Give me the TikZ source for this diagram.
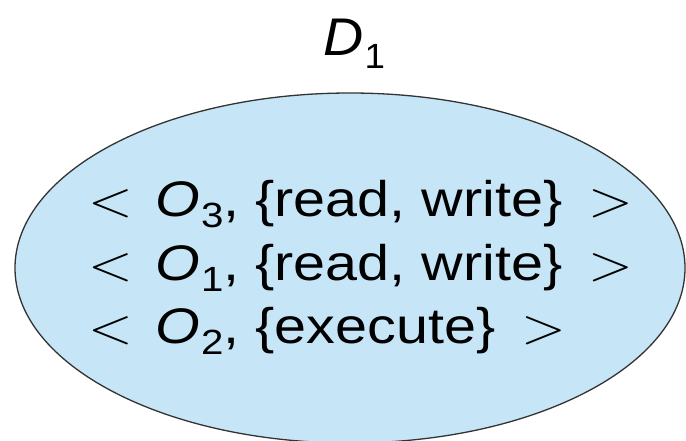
\documentclass[tikz,border=0pt]{standalone}
\usepackage{fontspec}
\setmainfont{Liberation Sans}
\newfontfamily\lmr{Latin Modern Roman}
\definecolor{domfill}{RGB}{198,230,247}
\newcommand{\lt}{{\lmr\fontsize{51}{56}\selectfont <}}
\newcommand{\gt}{{\lmr\fontsize{51}{56}\selectfont >}}
\newcommand{\obj}[1]{\textit{O}\kern0.01em\raisebox{-11pt}{\fontsize{35}{38}\selectfont #1}}
\newcommand{\entrytext}[2]{\scalebox{1.15}[1]{\lt\kern20pt\obj{#1}, \{#2\}\kern0.45em\gt}}
\begin{document}
\begin{tikzpicture}[x=1pt,y=-1pt,
  domainshape/.style={draw=black!80,line width=1.3pt,fill=domfill},
  entry/.style={anchor=base west,font=\fontsize{50}{56}\selectfont,inner sep=0pt},
  dlabel/.style={anchor=base west,font=\fontsize{53}{60}\selectfont,inner sep=0pt}]
\useasboundingbox (0,0) rectangle (686,440);
\fill[white] (0,0) rectangle (686,440);
\draw[domainshape] (350,268) ellipse [x radius=335, y radius=175];
\node[dlabel] (d1) at (323,55) {\scalebox{1.05}[1]{\textit{D}\kern0.02em\raisebox{-13pt}{\fontsize{35}{40}\selectfont 1}}};
\node[entry] (e1) at (88,216) {\entrytext{3}{read, write}};
\node[entry] (e2) at (88,280) {\entrytext{1}{read, write}};
\node[entry] (e3) at (88,343) {\entrytext{2}{execute}};
\end{tikzpicture}
\end{document}
